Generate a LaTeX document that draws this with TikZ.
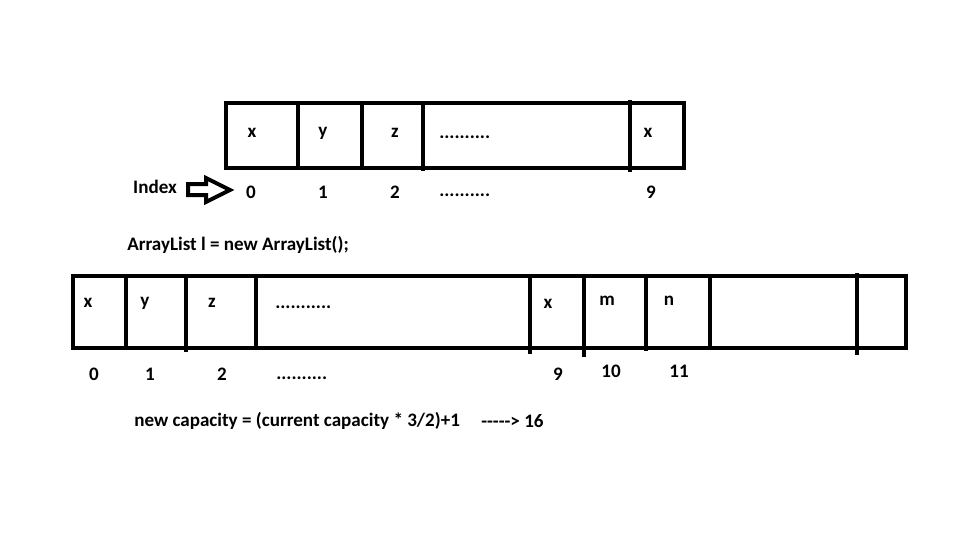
\documentclass[tikz,border=0pt]{standalone}
\usepackage{fontspec}
\setmainfont{Carlito}
\begin{document}
\begin{tikzpicture}[x=0.75pt,y=-0.75pt,
  box/.style={line width=3.6pt},
  bar/.style={line width=3.6pt},
  lbl/.style={font=\bfseries\fontsize{14.3}{16}\selectfont,inner sep=0pt},
  dots/.style={lbl,anchor=base west}]
\useasboundingbox (0,0) rectangle (977,542);
% top array
\draw[box] (226,103) rectangle (684,168);
\draw[bar] (298,103) -- (298,166);
\draw[bar] (362,103) -- (362,168);
\draw[bar] (423,103) -- (423,171);
\draw[bar] (630,100) -- (630,172);
\node[lbl] (t0) at (252,133) {x};
\node[lbl] (t1) at (323,133) {y};
\node[lbl] (t2) at (395,133) {z};
\node[dots] (td) at (439,138) {..........};
\node[lbl] (t9) at (648,133) {x};
\node[lbl] (idx) at (155,187) {Index};
\draw[line width=3pt,line join=miter] (188,184) -- (206,184) -- (206,178) -- (230,190) -- (206,202) -- (206,195) -- (188,195) -- cycle;
\node[lbl] (i0) at (251,192) {0};
\node[lbl] (i1) at (323,192) {1};
\node[lbl] (i2) at (395,192) {2};
\node[dots] (id) at (439,196) {..........};
\node[lbl] (i9) at (651,192) {9};
% caption
\node[lbl,anchor=west] (decl) at (127,245) {ArrayList l = new ArrayList();};
% bottom array
\draw[box] (73,276) rectangle (906,348);
\draw[bar] (126,276) -- (126,348);
\draw[bar] (186,276) -- (186,352);
\draw[bar] (256,276) -- (256,348);
\draw[bar] (530,276) -- (530,354);
\draw[bar] (584,276) -- (584,357);
\draw[bar] (646,276) -- (646,351);
\draw[bar] (710,276) -- (710,348);
\draw[bar] (857,273) -- (857,355);
\node[lbl] (b0) at (88,303) {x};
\node[lbl] (b1) at (145,303) {y};
\node[lbl] (b2) at (212,303) {z};
\node[dots] (bd) at (275,308) {...........};
\node[lbl] (b9) at (548,304) {x};
\node[lbl] (b10) at (607,301) {m};
\node[lbl] (b11) at (669,301) {n};
\node[lbl] (j0) at (94,374) {0};
\node[lbl] (j1) at (150,374) {1};
\node[lbl] (j2) at (222,374) {2};
\node[dots] (jd) at (276,379) {..........};
\node[lbl] (j9) at (558,374) {9};
\node[lbl] (j10) at (611,371) {10};
\node[lbl] (j11) at (679,371) {11};
% formula
\node[lbl,anchor=west] (form) at (134,421) {new capacity = (current capacity * 3/2)+1};
\node[lbl,anchor=west] (res) at (481,421) {-{}-{}-{}-{}-> 16};
\end{tikzpicture}
\end{document}
